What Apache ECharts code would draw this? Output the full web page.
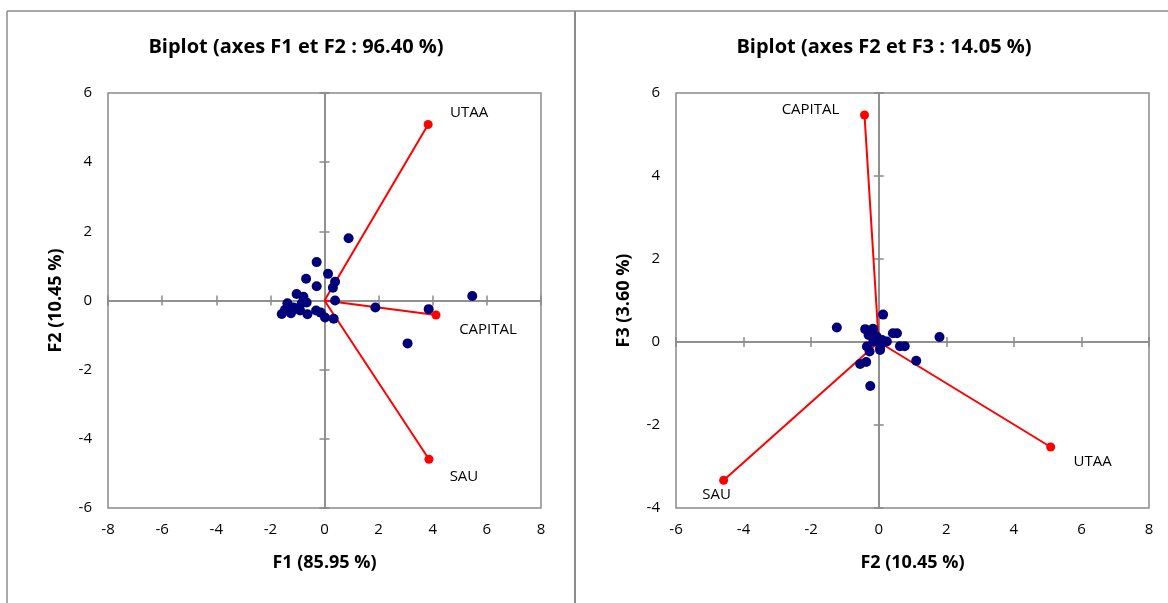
<!DOCTYPE html>
<html>
<head>
<meta charset="utf-8">
<script src="https://cdn.jsdelivr.net/npm/echarts@6/dist/echarts.min.js"></script>
<style>
html,body{margin:0;padding:0;background:#fff;}
#chart{width:1168px;height:603px;}
</style>
</head>
<body>
<div id="chart"></div>
<script>
// ---- Data ----
const varNames = ['UTAA', 'CAPITAL', 'SAU'];
const varF1 = [3.83, 4.12, 3.86];
const varF2 = [5.09, -0.42, -4.59];
const varF3 = [-2.53, 5.47, -3.33];

// observations on F1 / F2
const obsF1 = [0.89, -0.29, 0.13, -0.68, 0.39, 0.31, -0.29, 0.39, 5.46, 1.88, 3.85, 3.07,
  -1.03, -0.78, -1.37, -0.84, -0.66, -1.15, -1.58, -1.24, -0.90, -0.63, -0.31, -0.14, 0.02, 0.34, -1.46, -1.03];
const obsF2a = [1.80, 1.11, 0.77, 0.63, 0.54, 0.37, 0.41, 0.00, 0.13, -0.20, -0.25, -1.24,
  0.19, 0.11, -0.08, -0.08, -0.06, -0.20, -0.39, -0.37, -0.29, -0.40, -0.29, -0.35, -0.49, -0.53, -0.27, -0.23];

// observations on F2 / F3
const obsF2b = [0.13, -1.24, 1.80, 1.11, -0.25, -0.55, -0.37, 0.42, 0.54, 0.63, 0.77, -0.40,
  -0.17, -0.30, -0.06, -0.35, -0.27, 0.04, 0.09, 0.24, -0.16, 0.04, -0.20, 0.10];
const obsF3 = [0.66, 0.35, 0.12, -0.45, -1.06, -0.53, -0.48, 0.21, 0.21, -0.10, -0.10, 0.31,
  0.32, 0.17, 0.13, -0.11, -0.23, -0.15, -0.03, 0.01, 0.01, -0.19, 0.20, 0.05];

const titles = ['Biplot (axes F1 et F2 : 96.40 %)', 'Biplot (axes F2 et F3 : 14.05 %)'];
const axisNames = [['F1 (85.95 %)', 'F2 (10.45 %)'], ['F2 (10.45 %)', 'F3 (3.60 %)']];
const ranges = [[-8, 8, -6, 6], [-6, 8, -4, 6]];

// label offsets (style only)
const labelOffsets = [
  [[41, -12], [52, 15], [35, 17]],
  [[42, 15], [-54, -5], [-7, 15]]
];

// ---- Build ----
const FONT = '"Open Sans", Lato, sans-serif';
const GRAY = '#8a8a8a';
const grids = [
  {left: 108, top: 93, width: 433, height: 415, show: true, borderColor: GRAY, borderWidth: 1.5},
  {left: 676, top: 93, width: 473, height: 415, show: true, borderColor: GRAY, borderWidth: 1.5}
];

const xAxes = [], yAxes = [], series = [];
for (let g = 0; g < 2; g++) {
  const [xmin, xmax, ymin, ymax] = ranges[g];
  const base = g * 3;
  xAxes.push({
    type: 'value', gridIndex: g, min: xmin, max: xmax, interval: 2, position: 'bottom',
    axisLine: {show: false, onZero: false}, axisTick: {show: false}, splitLine: {show: false},
    axisLabel: {color: '#000', fontSize: 15, fontFamily: FONT, margin: 14},
    name: axisNames[g][0], nameLocation: 'middle', nameGap: 46,
    nameTextStyle: {color: '#000', fontSize: 18, fontWeight: 'bold', fontFamily: FONT}
  });
  yAxes.push({
    type: 'value', gridIndex: g, min: ymin, max: ymax, interval: 2, position: 'left',
    axisLine: {show: false, onZero: false}, axisTick: {show: false}, splitLine: {show: false},
    axisLabel: {color: '#000', fontSize: 15, fontFamily: FONT, margin: 16},
    name: axisNames[g][1], nameLocation: 'middle', nameGap: 43,
    nameTextStyle: {color: '#000', fontSize: 18, fontWeight: 'bold', fontFamily: FONT}
  });
  for (const inside of [true, false]) {
    xAxes.push({
      type: 'value', gridIndex: g, min: xmin, max: xmax, interval: 2, position: 'bottom',
      axisLine: {show: true, onZero: true, onZeroAxisIndex: base, lineStyle: {color: GRAY, width: 1.5}},
      axisTick: {show: true, inside: inside, length: 5, lineStyle: {color: GRAY, width: 1.5}},
      axisLabel: {show: false}, splitLine: {show: false}
    });
    yAxes.push({
      type: 'value', gridIndex: g, min: ymin, max: ymax, interval: 2, position: 'left',
      axisLine: {show: true, onZero: true, onZeroAxisIndex: base, lineStyle: {color: GRAY, width: 1.5}},
      axisTick: {show: true, inside: inside, length: 5, lineStyle: {color: GRAY, width: 1.5}},
      axisLabel: {show: false}, splitLine: {show: false}
    });
  }

  const vx = g === 0 ? varF1 : varF2;
  const vy = g === 0 ? varF2 : varF3;
  const ox = g === 0 ? obsF1 : obsF2b;
  const oy = g === 0 ? obsF2a : obsF3;

  for (let i = 0; i < varNames.length; i++) {
    series.push({
      type: 'line', xAxisIndex: base, yAxisIndex: base, symbol: 'none', silent: true,
      lineStyle: {color: '#ff0000', width: 2}, z: 3,
      data: [[0, 0], [vx[i], vy[i]]]
    });
  }
  series.push({
    type: 'scatter', xAxisIndex: base, yAxisIndex: base, symbolSize: 10, z: 4,
    itemStyle: {color: '#00007a', opacity: 1},
    data: ox.map((v, i) => [v, oy[i]])
  });
  series.push({
    type: 'scatter', xAxisIndex: base, yAxisIndex: base, symbolSize: 9, z: 5,
    itemStyle: {color: '#ff0000', opacity: 1},
    data: varNames.map((n, i) => ({
      name: n, value: [vx[i], vy[i]],
      label: {show: true, position: 'inside', offset: labelOffsets[g][i], formatter: n,
        color: '#000', fontSize: 15, fontFamily: FONT}
    }))
  });
}

const option = {
  animation: false,
  backgroundColor: '#fff',
  title: [
    {text: titles[0], left: 291, top: 32, textAlign: 'center',
      textStyle: {fontSize: 20, fontWeight: 'bold', color: '#000', fontFamily: FONT}},
    {text: titles[1], left: 879, top: 32, textAlign: 'center',
      textStyle: {fontSize: 20, fontWeight: 'bold', color: '#000', fontFamily: FONT}}
  ],
  graphic: [
    {type: 'line', shape: {x1: 7, y1: 11, x2: 1168, y2: 11}, style: {stroke: '#8c8c8c', lineWidth: 1.5}},
    {type: 'line', shape: {x1: 7, y1: 11, x2: 7, y2: 603}, style: {stroke: '#8c8c8c', lineWidth: 1.5}},
    {type: 'line', shape: {x1: 575, y1: 11, x2: 575, y2: 603}, style: {stroke: '#8c8c8c', lineWidth: 2}}
  ],
  grid: grids,
  xAxis: xAxes,
  yAxis: yAxes,
  series: series
};

const chart = echarts.init(document.getElementById('chart'));
chart.setOption(option);
</script>
</body>
</html>
